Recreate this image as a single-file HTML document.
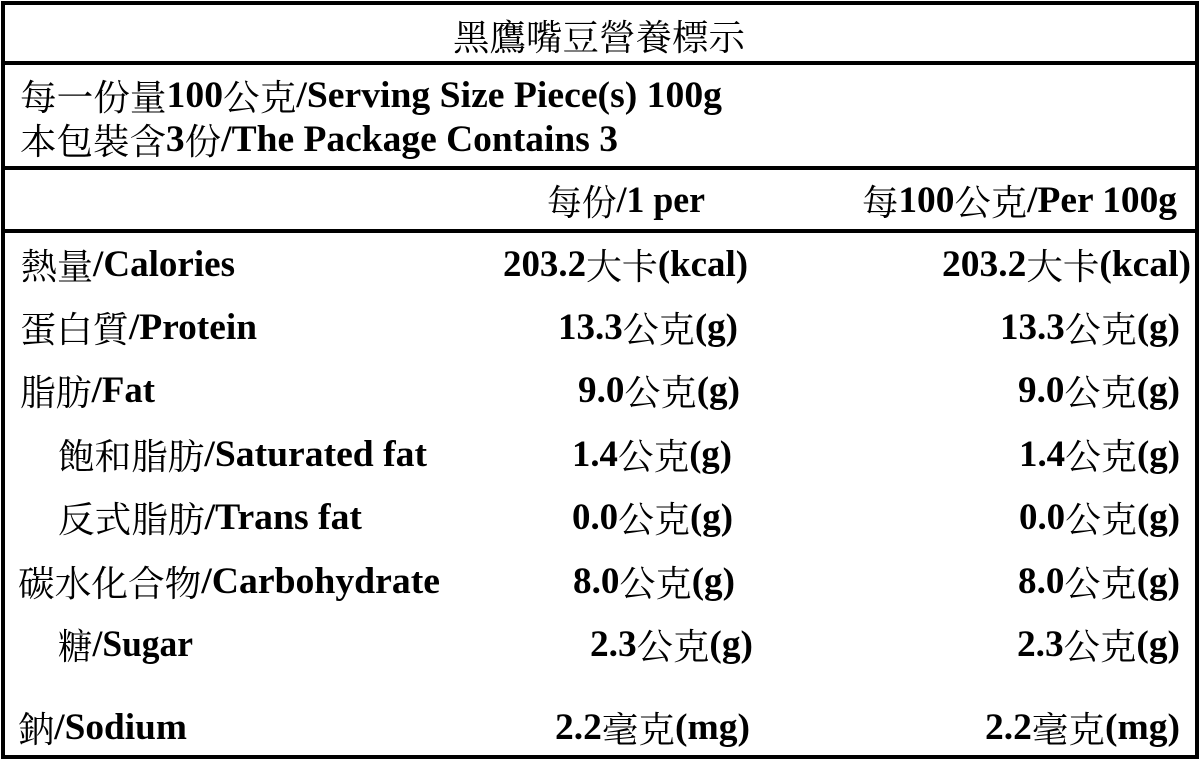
<!DOCTYPE html>
<html>
<head>
<meta charset="utf-8">
<style>
  html, body { margin: 0; padding: 0; background: #fff; width: 1202px; height: 769px; overflow: hidden; }
  svg { display: block; }
  text { font-family: "Liberation Serif", "Noto Serif CJK SC", serif; font-weight: bold; font-size: 37px; fill: #000; }
  .c { font-family: "Noto Serif CJK SC", "Noto Serif CJK TC", serif; font-weight: normal; font-size: 36px; }
  .t { font-family: "Noto Serif CJK SC", "Noto Serif CJK TC", serif; font-weight: normal; font-size: 36px; }
</style>
</head>
<body>
<svg width="1202" height="769" viewBox="0 0 1202 769" xmlns="http://www.w3.org/2000/svg">
  <rect x="0" y="0" width="1202" height="769" fill="#fff"/>
  <!-- borders -->
  <rect x="1" y="1" width="1198" height="4" fill="#000"/>
  <rect x="1" y="755" width="1198" height="4" fill="#000"/>
  <rect x="1" y="1" width="4" height="758" fill="#000"/>
  <rect x="1195" y="1" width="4" height="758" fill="#000"/>
  <rect x="1" y="61" width="1198" height="4" fill="#000"/>
  <rect x="1" y="166" width="1198" height="4" fill="#000"/>
  <rect x="1" y="229" width="1198" height="4" fill="#000"/>

  <!-- title -->
  <text class="t" x="453" y="50" textLength="292" lengthAdjust="spacingAndGlyphs">黑鷹嘴豆營養標示</text>

  <!-- serving info -->
  <text x="20" y="107" textLength="702" lengthAdjust="spacingAndGlyphs"><tspan class="c" dy="3">每一份量</tspan><tspan dy="-3">100</tspan><tspan class="c" dy="3">公克</tspan><tspan dy="-3">/Serving Size Piece(s) 100g</tspan></text>
  <text x="20" y="151" textLength="598" lengthAdjust="spacingAndGlyphs"><tspan class="c" dy="3">本包裝含</tspan><tspan dy="-3">3</tspan><tspan class="c" dy="3">份</tspan><tspan dy="-3">/The Package Contains 3</tspan></text>

  <!-- header -->
  <text x="547" y="212" textLength="158" lengthAdjust="spacingAndGlyphs"><tspan class="c" dy="3">每份</tspan><tspan dy="-3">/1 per</tspan></text>
  <text x="862" y="212" textLength="315" lengthAdjust="spacingAndGlyphs"><tspan class="c" dy="3">每</tspan><tspan dy="-3">100</tspan><tspan class="c" dy="3">公克</tspan><tspan dy="-3">/Per 100g</tspan></text>

  <!-- labels -->
  <text x="21" y="276" textLength="214" lengthAdjust="spacingAndGlyphs"><tspan class="c" dy="3">熱量</tspan><tspan dy="-3">/Calories</tspan></text>
  <text x="20" y="339" textLength="237" lengthAdjust="spacingAndGlyphs"><tspan class="c" dy="3">蛋白質</tspan><tspan dy="-3">/Protein</tspan></text>
  <text x="20" y="402" textLength="135" lengthAdjust="spacingAndGlyphs"><tspan class="c" dy="3">脂肪</tspan><tspan dy="-3">/Fat</tspan></text>
  <text x="58" y="466" textLength="369" lengthAdjust="spacingAndGlyphs"><tspan class="c" dy="3">飽和脂肪</tspan><tspan dy="-3">/Saturated fat</tspan></text>
  <text x="58" y="529" textLength="304" lengthAdjust="spacingAndGlyphs"><tspan class="c" dy="3">反式脂肪</tspan><tspan dy="-3">/Trans fat</tspan></text>
  <text x="18" y="593" textLength="422" lengthAdjust="spacingAndGlyphs"><tspan class="c" dy="3">碳水化合物</tspan><tspan dy="-3">/Carbohydrate</tspan></text>
  <text x="58" y="656" textLength="135" lengthAdjust="spacingAndGlyphs"><tspan class="c" dy="3">糖</tspan><tspan dy="-3">/Sugar</tspan></text>
  <text x="18" y="739" textLength="169" lengthAdjust="spacingAndGlyphs"><tspan class="c" dy="3">鈉</tspan><tspan dy="-3">/Sodium</tspan></text>

  <!-- column 2 -->
  <text x="503" y="276" textLength="245" lengthAdjust="spacingAndGlyphs">203.2<tspan class="c" dy="3">大卡</tspan><tspan dy="-3">(kcal)</tspan></text>
  <text x="558" y="339" textLength="180" lengthAdjust="spacingAndGlyphs">13.3<tspan class="c" dy="3">公克</tspan><tspan dy="-3">(g)</tspan></text>
  <text x="578" y="402" textLength="162" lengthAdjust="spacingAndGlyphs">9.0<tspan class="c" dy="3">公克</tspan><tspan dy="-3">(g)</tspan></text>
  <text x="572" y="466" textLength="160" lengthAdjust="spacingAndGlyphs">1.4<tspan class="c" dy="3">公克</tspan><tspan dy="-3">(g)</tspan></text>
  <text x="572" y="529" textLength="161" lengthAdjust="spacingAndGlyphs">0.0<tspan class="c" dy="3">公克</tspan><tspan dy="-3">(g)</tspan></text>
  <text x="573" y="593" textLength="162" lengthAdjust="spacingAndGlyphs">8.0<tspan class="c" dy="3">公克</tspan><tspan dy="-3">(g)</tspan></text>
  <text x="590" y="656" textLength="163" lengthAdjust="spacingAndGlyphs">2.3<tspan class="c" dy="3">公克</tspan><tspan dy="-3">(g)</tspan></text>
  <text x="555" y="739" textLength="195" lengthAdjust="spacingAndGlyphs">2.2<tspan class="c" dy="3">毫克</tspan><tspan dy="-3">(mg)</tspan></text>

  <!-- column 3 -->
  <text x="942" y="276" textLength="249" lengthAdjust="spacingAndGlyphs">203.2<tspan class="c" dy="3">大卡</tspan><tspan dy="-3">(kcal)</tspan></text>
  <text x="1000" y="339" textLength="180" lengthAdjust="spacingAndGlyphs">13.3<tspan class="c" dy="3">公克</tspan><tspan dy="-3">(g)</tspan></text>
  <text x="1018" y="402" textLength="162" lengthAdjust="spacingAndGlyphs">9.0<tspan class="c" dy="3">公克</tspan><tspan dy="-3">(g)</tspan></text>
  <text x="1019" y="466" textLength="161" lengthAdjust="spacingAndGlyphs">1.4<tspan class="c" dy="3">公克</tspan><tspan dy="-3">(g)</tspan></text>
  <text x="1019" y="529" textLength="161" lengthAdjust="spacingAndGlyphs">0.0<tspan class="c" dy="3">公克</tspan><tspan dy="-3">(g)</tspan></text>
  <text x="1018" y="593" textLength="162" lengthAdjust="spacingAndGlyphs">8.0<tspan class="c" dy="3">公克</tspan><tspan dy="-3">(g)</tspan></text>
  <text x="1017" y="656" textLength="163" lengthAdjust="spacingAndGlyphs">2.3<tspan class="c" dy="3">公克</tspan><tspan dy="-3">(g)</tspan></text>
  <text x="985" y="739" textLength="195" lengthAdjust="spacingAndGlyphs">2.2<tspan class="c" dy="3">毫克</tspan><tspan dy="-3">(mg)</tspan></text>
</svg>
</body>
</html>
